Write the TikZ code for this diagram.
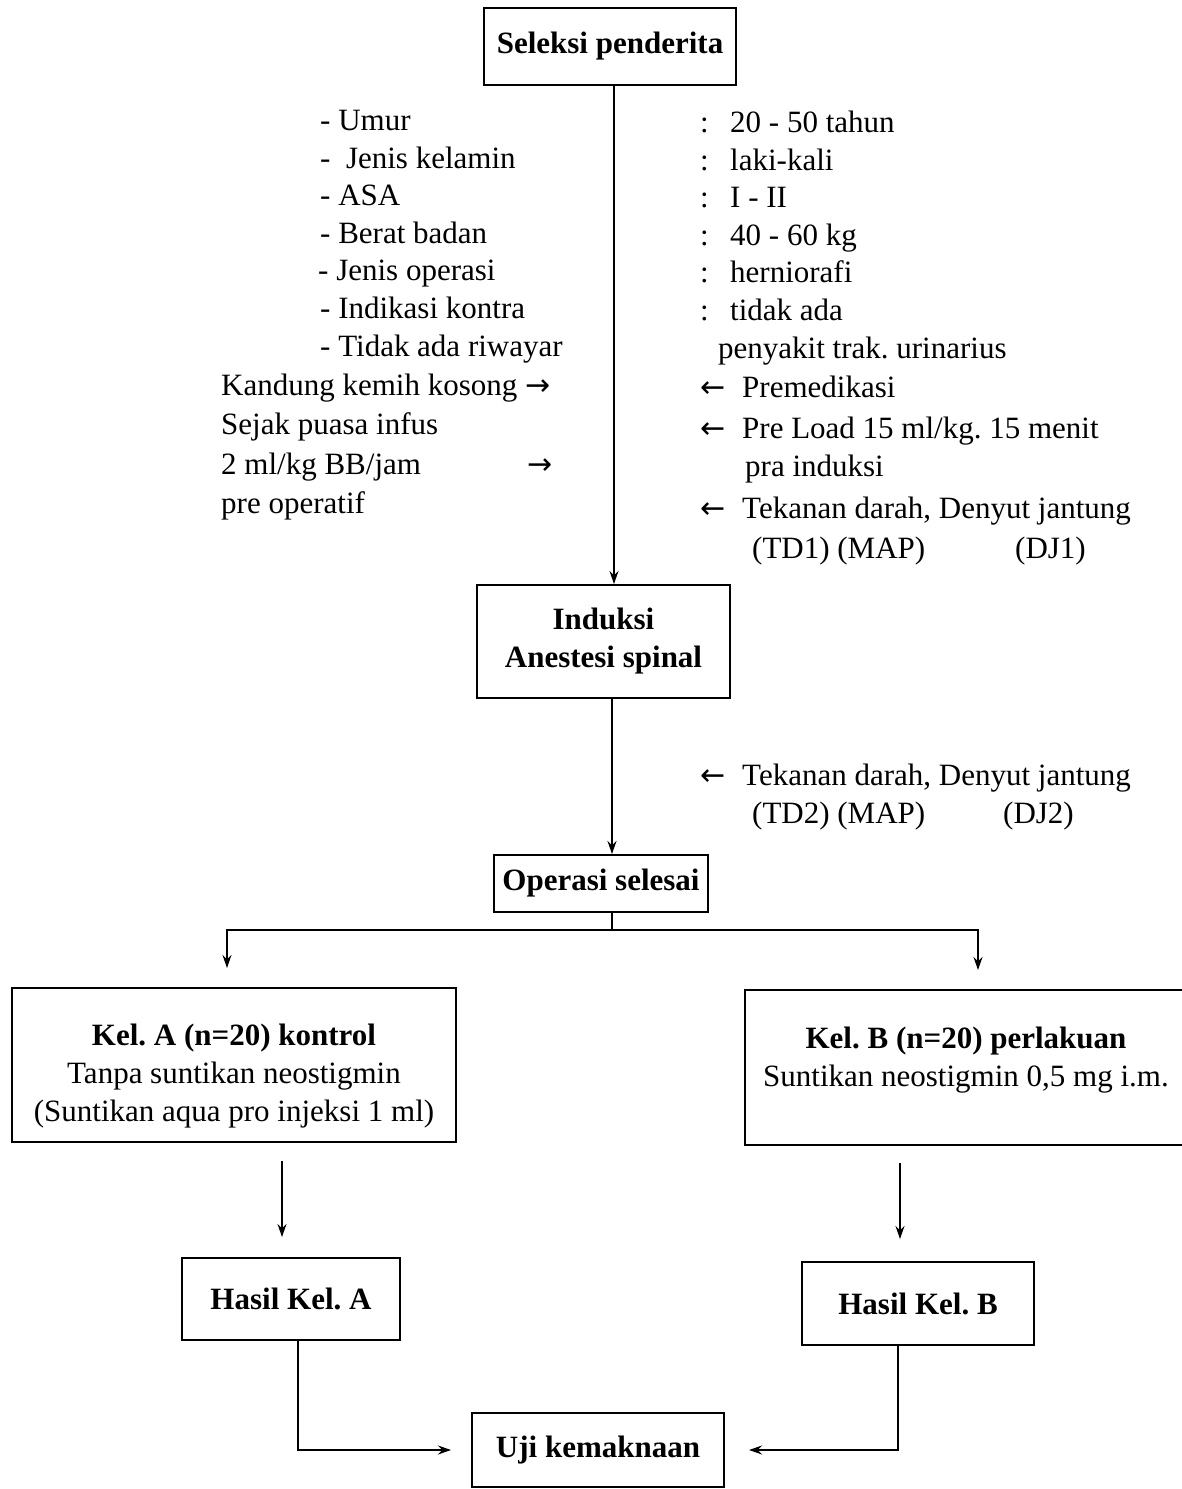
\documentclass[tikz,border=0pt]{standalone}
\usepackage{fontspec}
\setmainfont{Liberation Serif}
\newfontfamily\arrowfont{DejaVu Sans}
\usetikzlibrary{arrows.meta,calc}
\tikzset{
 box/.style={draw, line width=2pt, font=\fontsize{31}{38}\selectfont\bfseries, align=center, inner sep=0pt},
 boxtxt/.style={font=\fontsize{31}{38}\selectfont, align=center, inner sep=0pt},
 txt/.style={anchor=base west, inner sep=0pt, font=\fontsize{31}{38}\selectfont},
 conn/.style={line width=1.3pt},
 arr/.style={conn, -{Stealth[length=13pt,width=9pt]}},
}
\newcommand{\ra}{{\arrowfont\fontsize{30}{38}\selectfont →}}
\newcommand{\la}{{\arrowfont\fontsize{30}{38}\selectfont ←}}
\begin{document}
\frenchspacing
\begin{tikzpicture}[x=1pt,y=-1pt]
\useasboundingbox[fill=white] (0,0) rectangle (1182,1489);
% boxes
\node[box, minimum width=252pt, minimum height=77pt] (sel) at (610,46) {Seleksi penderita};
\node[box, minimum width=253pt, minimum height=113pt] (ind) at (603.5,641.5) {Induksi\\Anestesi spinal};
\node[box, minimum width=214pt, minimum height=57pt] (ops) at (601,883.5) {Operasi selesai};
\node[box, minimum width=444pt, minimum height=154pt] (kela) at (234,1065) {};
\node[boxtxt] (kelat) at (234,1076) {\bfseries Kel. A (n=20) kontrol\\Tanpa suntikan neostigmin\\(Suntikan aqua pro injeksi 1 ml)};
\node[box, minimum width=439pt, minimum height=155pt] (kelb) at (964.5,1067.5) {};
\node[boxtxt] (kelbt) at (966,1060) {\bfseries Kel. B (n=20) perlakuan\\Suntikan neostigmin 0,5 mg i.m.};
\node[box, minimum width=218pt, minimum height=82pt] (hasa) at (291,1299) {Hasil Kel. A};
\node[box, minimum width=232pt, minimum height=83pt] (hasb) at (918,1303.5) {Hasil Kel. B};
\node[box, minimum width=252pt, minimum height=74pt] (uji) at (598,1450) {Uji kemaknaan};
% left text
\node[txt] (l1) at (320,130) {- Umur};
\node[txt] (l2) at (320,168) {-\ \ Jenis kelamin};
\node[txt] (l3) at (320,205) {- ASA};
\node[txt] (l4) at (320,243) {- Berat badan};
\node[txt] (l5) at (318,280) {- Jenis operasi};
\node[txt] (l6) at (320,318) {- Indikasi kontra};
\node[txt] (l7) at (320,356) {- Tidak ada riwayar};
\node[txt] (l8) at (221,395) {Kandung kemih kosong \ra};
\node[txt] (l9) at (221,434) {Sejak puasa infus};
\node[txt] (l10) at (221,474) {\makebox[306pt][l]{2 ml/kg BB/jam}\ra};
\node[txt] (l11) at (221,513) {pre operatif};
% right text
\node[txt] (r1) at (700,132) {\makebox[30pt][l]{:}20 - 50 tahun};
\node[txt] (r2) at (700,170) {\makebox[30pt][l]{:}laki-kali};
\node[txt] (r3) at (700,207) {\makebox[30pt][l]{:}I - II};
\node[txt] (r4) at (700,245) {\makebox[30pt][l]{:}40 - 60 kg};
\node[txt] (r5) at (700,282) {\makebox[30pt][l]{:}herniorafi};
\node[txt] (r6) at (700,320) {\makebox[30pt][l]{:}tidak ada};
\node[txt] (r7) at (718,358) {penyakit trak. urinarius};
\node[txt] (r8) at (700,397) {\makebox[42pt][l]{\la}Premedikasi};
\node[txt] (r9) at (700,438) {\makebox[42pt][l]{\la}Pre Load 15 ml/kg. 15 menit};
\node[txt] (r10) at (745,476) {pra induksi};
\node[txt] (r11) at (700,518) {\makebox[42pt][l]{\la}Tekanan darah, Denyut jantung};
\node[txt] (r12) at (752,558) {\makebox[263pt][l]{(TD1) (MAP)}(DJ1)};
\node[txt] (r13) at (700,785) {\makebox[42pt][l]{\la}Tekanan darah, Denyut jantung};
\node[txt] (r14) at (752,823) {\makebox[251pt][l]{(TD2) (MAP)}(DJ2)};
% connectors
\coordinate (ax) at (614,0);
\coordinate (bx) at (612,0);
\coordinate (split) at (612,930);
\coordinate (ta) at (227,968);
\coordinate (tb) at (978,970);
\coordinate (xa) at (282,0);
\coordinate (xb) at (900,0);
\coordinate (xa2) at (298,0);
\coordinate (xb2) at (898,0);
\draw[arr] (sel.south -| ax) -- (ind.north -| ax);
\draw[arr] (ind.south -| bx) -- (ops.north -| bx);
\draw[conn] (ops.south -| split) -- (split);
\draw[arr] (split) -| (ta);
\draw[arr] (split) -| (tb);
\draw[arr, shorten <=18pt, shorten >=20pt] (kela.south -| xa) -- (hasa.north -| xa);
\draw[arr, shorten <=17pt, shorten >=22pt] (kelb.south -| xb) -- (hasb.north -| xb);
\draw[arr, shorten >=20pt] (hasa.south -| xa2) |- (uji.west);
\draw[arr, shorten >=24pt] (hasb.south -| xb2) |- (uji.east);
\end{tikzpicture}
\end{document}
